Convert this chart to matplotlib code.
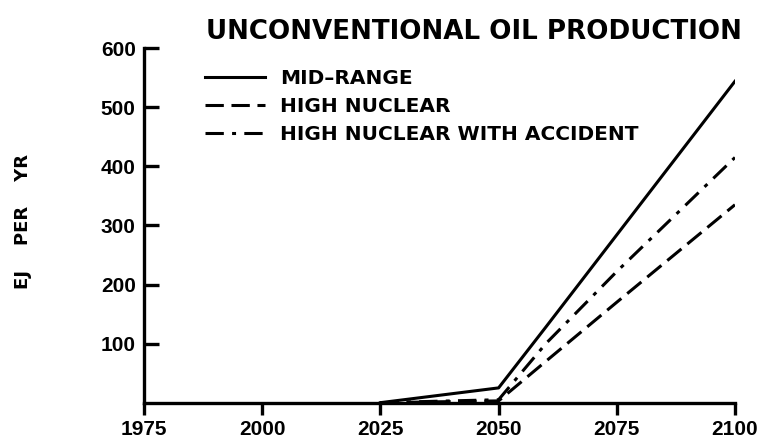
import matplotlib.pyplot as plt

plt.rcParams['font.family'] = ['Liberation Sans', 'DejaVu Sans']
plt.rcParams['font.weight'] = 'bold'

years = [2025, 2050, 2060, 2075, 2100]
mid_range = [0, 25, 128, 284, 544]
high_nuclear = [0, 3, 70, 170, 335]
high_nuclear_accident = [0, 5, 100, 222, 415]

xticks = [1975, 2000, 2025, 2050, 2075, 2100]
yticks = [100, 200, 300, 400, 500, 600]

fig = plt.figure(figsize=(7.64, 4.42), dpi=100)
ax = fig.add_axes([0.1885, 0.089, 0.7735, 0.802])

lw = 2.2
ax.plot(years, mid_range, color='black', lw=lw, label='MID\u2013RANGE')
ax.plot(years, high_nuclear, color='black', lw=lw, dashes=(6, 2.5), label='HIGH NUCLEAR')
ax.plot(years, high_nuclear_accident, color='black', lw=lw, dashes=(6, 2.7, 1.3, 2.7),
        label='HIGH NUCLEAR WITH ACCIDENT')

ax.set_xlim(1975, 2100)
ax.set_ylim(0, 600)
ax.set_xticks(xticks)
ax.set_yticks(yticks)
ax.tick_params(axis='y', direction='in', length=11, width=2.4, labelsize=15, pad=6)
ax.tick_params(axis='x', direction='out', length=8.5, width=2.4, labelsize=15, pad=4)
for s in ['top', 'right']:
    ax.spines[s].set_visible(False)
for s in ['left', 'bottom']:
    ax.spines[s].set_linewidth(2.4)

ax.set_ylabel('EJ    PER    YR', fontsize=13, fontweight='bold', family='DejaVu Sans')
ax.yaxis.set_label_coords(-0.19, 0.51)

fig.text(0.62, 0.928, 'UNCONVENTIONAL OIL PRODUCTION', fontsize=18.8,
         fontweight='bold', family='DejaVu Sans', ha='center', va='center')

ax.legend(loc='upper left', bbox_to_anchor=(0.103, 0.94), frameon=False,
          prop={'family': 'DejaVu Sans', 'weight': 'bold', 'size': 14.5},
          handlelength=3.0, handletextpad=0.75, labelspacing=0.43,
          borderaxespad=0, borderpad=0)

fig.savefig('out.png', dpi=100)
